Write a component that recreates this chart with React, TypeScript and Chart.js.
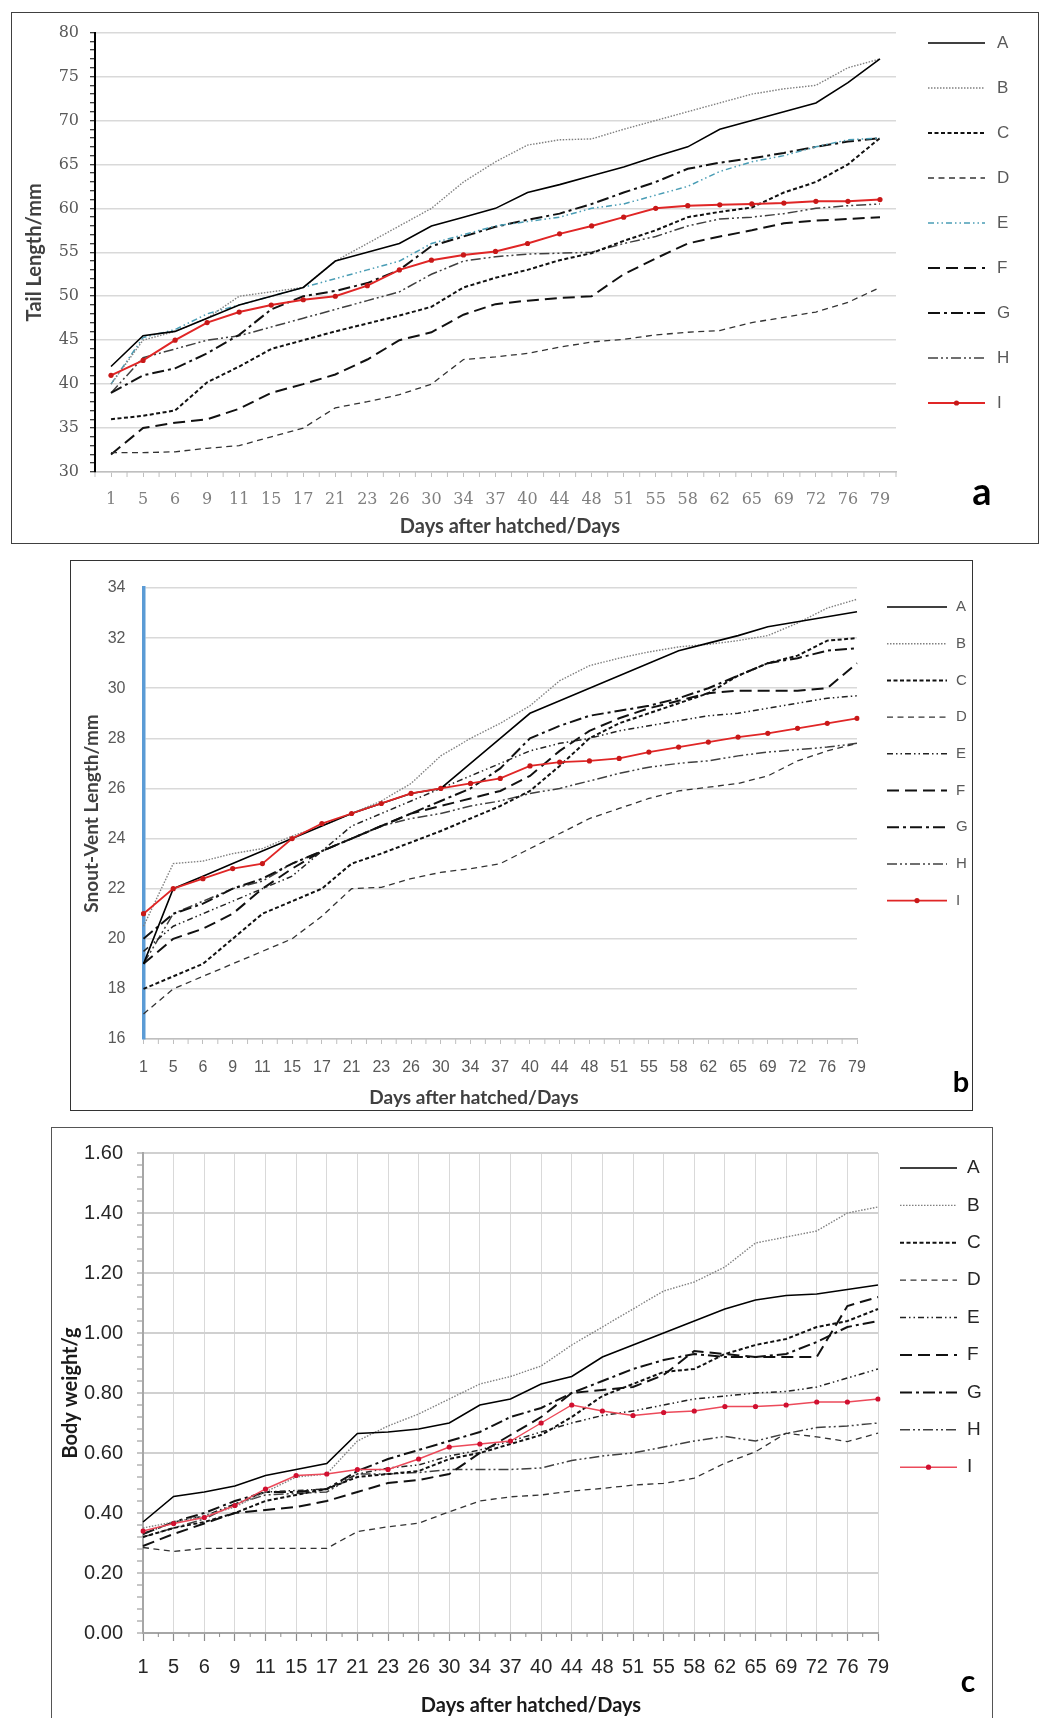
import React, { useEffect, useRef } from 'react';
import { Chart, registerables } from 'chart.js';

Chart.register(...registerables);

// ---------- categories ----------
const days = ['1', '5', '6', '9', '11', '15', '17', '21', '23', '26', '30', '34', '37', '40', '44', '48', '51', '55', '58', '62', '65', '69', '72', '76', '79'];
const seriesNames = ['A', 'B', 'C', 'D', 'E', 'F', 'G', 'H', 'I'];

// ---------- panel a : Tail length (mm) ----------
const tailA = [42, 45.5, 46, 47.5, 49, 50, 51, 54, 55, 56, 58, 59, 60, 61.8, 62.7, 63.7, 64.7, 65.9, 67, 69, 70, 71, 72, 74.3, 77];
const tailB = [40, 45, 46, 47.5, 50, 50.5, 51, 54, 56, 58, 60, 63, 65.3, 67.2, 67.8, 67.9, 69, 70, 71, 72, 73, 73.6, 74, 76, 77];
const tailC = [36, 36.4, 37, 40.2, 42, 44, 45, 46, 46.9, 47.8, 48.8, 51, 52.1, 53, 54.1, 54.9, 56.3, 57.5, 59, 59.6, 60.1, 61.8, 63, 65, 68];
const tailD = [32.2, 32.2, 32.3, 32.7, 33, 34, 35, 37.3, 38, 38.8, 40, 42.8, 43.1, 43.5, 44.2, 44.8, 45.1, 45.6, 45.9, 46.1, 47, 47.6, 48.2, 49.3, 51];
const tailE = [40, 45.3, 46.2, 48, 49, 50, 51, 52, 53, 54, 56, 57, 58, 58.5, 59, 60, 60.5, 61.5, 62.5, 64.2, 65.3, 66, 67, 67.8, 68];
const tailF = [32, 35, 35.6, 36, 37.2, 39, 40, 41.1, 42.8, 45, 45.9, 47.9, 49.1, 49.5, 49.8, 50, 52.5, 54.3, 56, 56.8, 57.5, 58.3, 58.6, 58.8, 59];
const tailG = [39, 41, 41.8, 43.5, 45.6, 48.5, 50, 50.6, 51.5, 53, 55.7, 56.8, 57.9, 58.7, 59.4, 60.5, 61.8, 63, 64.5, 65.2, 65.7, 66.3, 67, 67.6, 68];
const tailH = [39, 43, 44, 45, 45.5, 46.5, 47.5, 48.5, 49.5, 50.5, 52.5, 54, 54.5, 54.8, 54.9, 55, 56, 56.8, 58, 58.8, 59, 59.4, 60, 60.3, 60.5];
const tailI = [41, 42.7, 45, 47, 48.2, 49, 49.6, 50, 51.2, 53, 54.1, 54.7, 55.1, 56, 57.1, 58, 59, 60, 60.3, 60.4, 60.5, 60.6, 60.8, 60.8, 61];

// ---------- panel b : Snout-vent length (mm) ----------
const svlA = [19, 22, 22.5, 23, 23.5, 24, 24.5, 25, 25.4, 25.8, 26, 27, 28, 29, 29.5, 30, 30.5, 31, 31.5, 31.8, 32.1, 32.45, 32.65, 32.85, 33.05];
const svlB = [20.5, 23, 23.1, 23.4, 23.6, 24.1, 24.5, 25, 25.5, 26.2, 27.3, 28, 28.6, 29.3, 30.3, 30.9, 31.2, 31.45, 31.65, 31.75, 31.9, 32.1, 32.6, 33.2, 33.55];
const svlC = [18, 18.5, 19, 20, 21, 21.5, 22, 23, 23.4, 23.85, 24.3, 24.8, 25.3, 25.9, 26.9, 28, 28.6, 29, 29.4, 29.8, 30.5, 31, 31.3, 31.9, 32];
const svlD = [17, 18, 18.5, 19, 19.5, 20, 20.9, 22, 22.05, 22.4, 22.65, 22.8, 23, 23.6, 24.2, 24.8, 25.2, 25.6, 25.9, 26.05, 26.2, 26.5, 27.1, 27.5, 27.8];
const svlE = [19.5, 20.5, 21, 21.5, 22, 22.5, 23.5, 24.5, 25, 25.5, 26, 26.5, 27, 27.5, 27.8, 28, 28.3, 28.5, 28.7, 28.9, 29, 29.2, 29.4, 29.6, 29.7];
const svlF = [19, 20, 20.4, 21, 22, 22.8, 23.5, 24, 24.5, 25, 25.3, 25.6, 25.9, 26.5, 27.5, 28.3, 28.8, 29.2, 29.5, 29.8, 29.9, 29.9, 29.9, 30, 31];
const svlG = [20, 21, 21.4, 22, 22.4, 23, 23.5, 24, 24.5, 25, 25.5, 26, 26.8, 28, 28.5, 28.9, 29.1, 29.3, 29.6, 30, 30.5, 31, 31.2, 31.5, 31.6];
const svlH = [19, 21, 21.5, 22, 22.3, 23, 23.5, 24, 24.5, 24.8, 25, 25.3, 25.5, 25.8, 26, 26.3, 26.6, 26.85, 27, 27.1, 27.3, 27.45, 27.55, 27.65, 27.8];
const svlI = [21, 22, 22.4, 22.8, 23, 24, 24.6, 25, 25.4, 25.8, 26, 26.2, 26.4, 26.9, 27.05, 27.1, 27.2, 27.45, 27.65, 27.85, 28.05, 28.2, 28.4, 28.6, 28.8];

// ---------- panel c : Body weight (g) ----------
const bwA = [0.37, 0.455, 0.47, 0.49, 0.525, 0.545, 0.565, 0.665, 0.67, 0.68, 0.7, 0.76, 0.78, 0.83, 0.855, 0.92, 0.96, 1.0, 1.04, 1.08, 1.11, 1.125, 1.13, 1.145, 1.16];
const bwB = [0.35, 0.37, 0.39, 0.42, 0.47, 0.52, 0.53, 0.64, 0.69, 0.73, 0.78, 0.83, 0.855, 0.89, 0.96, 1.02, 1.08, 1.14, 1.17, 1.22, 1.3, 1.32, 1.34, 1.4, 1.42];
const bwC = [0.32, 0.35, 0.37, 0.4, 0.44, 0.46, 0.48, 0.52, 0.53, 0.54, 0.58, 0.6, 0.63, 0.66, 0.72, 0.79, 0.83, 0.87, 0.88, 0.93, 0.96, 0.98, 1.02, 1.04, 1.08];
const bwD = [0.285, 0.272, 0.282, 0.282, 0.282, 0.282, 0.282, 0.338, 0.354, 0.366, 0.404, 0.44, 0.454, 0.46, 0.473, 0.482, 0.493, 0.499, 0.516, 0.566, 0.604, 0.666, 0.654, 0.638, 0.666];
const bwE = [0.33, 0.37, 0.39, 0.43, 0.47, 0.475, 0.48, 0.53, 0.55, 0.56, 0.59, 0.61, 0.64, 0.67, 0.7, 0.725, 0.74, 0.76, 0.78, 0.79, 0.8, 0.805, 0.82, 0.85, 0.88];
const bwF = [0.29, 0.33, 0.365, 0.4, 0.41, 0.42, 0.44, 0.47, 0.5, 0.51, 0.53, 0.6, 0.66, 0.72, 0.8, 0.81, 0.82, 0.86, 0.94, 0.93, 0.92, 0.92, 0.92, 1.09, 1.12];
const bwG = [0.33, 0.37, 0.4, 0.44, 0.47, 0.47, 0.48, 0.54, 0.58, 0.61, 0.64, 0.67, 0.72, 0.75, 0.8, 0.84, 0.88, 0.91, 0.93, 0.92, 0.92, 0.93, 0.97, 1.02, 1.04];
const bwH = [0.32, 0.35, 0.38, 0.43, 0.46, 0.465, 0.47, 0.53, 0.53, 0.535, 0.545, 0.545, 0.545, 0.55, 0.575, 0.59, 0.6, 0.62, 0.64, 0.655, 0.64, 0.665, 0.685, 0.69, 0.7];
const bwI = [0.34, 0.365, 0.385, 0.425, 0.48, 0.525, 0.53, 0.545, 0.545, 0.58, 0.62, 0.63, 0.64, 0.7, 0.76, 0.74, 0.725, 0.735, 0.74, 0.755, 0.755, 0.76, 0.77, 0.77, 0.78];

// ---------- styles ----------
type LineStyle = { color: string; width: number; dash: number[]; point?: number; pointColor?: string };

const blackStyles = (eColor: string, red: string, redPoint: string, redWidth: number): LineStyle[] => [
  { color: '#000000', width: 1.6, dash: [] },
  { color: '#808080', width: 1.4, dash: [1.5, 1.5] },
  { color: '#111111', width: 2, dash: [4, 2.5] },
  { color: '#333333', width: 1.3, dash: [6, 4.5] },
  { color: eColor, width: 1.5, dash: [6, 3, 1.5, 3, 1.5, 3] },
  { color: '#111111', width: 2, dash: [12, 6] },
  { color: '#111111', width: 2, dash: [12, 4, 3, 4] },
  { color: '#404040', width: 1.5, dash: [10, 3, 2, 3, 2, 3] },
  { color: red, width: redWidth, dash: [], point: 2.6, pointColor: redPoint },
];

const stylesA = blackStyles('#4a9db5', '#e02626', '#c81818', 2);
const stylesB = blackStyles('#222222', '#e02626', '#c81818', 1.8);
const stylesC = blackStyles('#222222', '#ec4a5a', '#d01030', 1.4);

function makeDatasets(values: number[][], styles: LineStyle[]) {
  return values.map((v, i) => ({
    label: seriesNames[i],
    data: v,
    borderColor: styles[i].color,
    backgroundColor: styles[i].color,
    borderWidth: styles[i].width,
    borderDash: styles[i].dash,
    pointRadius: styles[i].point || 0,
    pointHoverRadius: styles[i].point || 0,
    pointBackgroundColor: styles[i].pointColor || styles[i].color,
    pointBorderColor: styles[i].pointColor || styles[i].color,
    pointBorderWidth: 0,
    tension: 0,
    fill: false,
    order: i === 8 ? -1 : i,
  }));
}

// ---------- plugins ----------
const lineLegend = {
  id: 'lineLegend',
  afterDraw(chart: any, _args: any, opts: any) {
    const ctx = chart.ctx;
    chart.data.datasets.forEach((ds: any, i: number) => {
      const yy = opts.y + i * opts.dy;
      ctx.save();
      ctx.strokeStyle = ds.borderColor;
      ctx.lineWidth = ds.borderWidth;
      ctx.setLineDash(ds.borderDash || []);
      ctx.beginPath();
      ctx.moveTo(opts.x, yy);
      ctx.lineTo(opts.x + opts.len, yy);
      ctx.stroke();
      if (ds.pointRadius > 0) {
        ctx.setLineDash([]);
        ctx.fillStyle = ds.pointBackgroundColor;
        ctx.beginPath();
        ctx.arc(opts.x + opts.len / 2, yy, ds.pointRadius, 0, Math.PI * 2);
        ctx.fill();
      }
      ctx.fillStyle = opts.color;
      ctx.font = opts.font;
      ctx.textBaseline = 'middle';
      ctx.textAlign = 'left';
      ctx.fillText(ds.label, opts.x + opts.len + opts.gap, yy);
      ctx.restore();
    });
  },
};

const minorTicks = {
  id: 'minorTicks',
  afterDraw(chart: any, _args: any, opts: any) {
    const sx = chart.scales.x;
    const ctx = chart.ctx;
    const n = chart.data.labels.length;
    ctx.save();
    ctx.strokeStyle = opts.color;
    ctx.lineWidth = opts.width;
    ctx.beginPath();
    const pts: number[] = [];
    for (let i = 0; i < n - 1; i++) pts.push((sx.getPixelForValue(i) + sx.getPixelForValue(i + 1)) / 2);
    if (opts.edges) {
      pts.push(chart.chartArea.left, chart.chartArea.right);
    }
    pts.forEach((p) => {
      ctx.moveTo(p, sx.top);
      ctx.lineTo(p, sx.top + opts.length);
    });
    ctx.stroke();
    ctx.restore();
  },
};

const isMult = (v: number, step: number) => Math.abs(v / step - Math.round(v / step)) < 1e-6;

// ---------- configs ----------
function configA(): any {
  return {
    type: 'line',
    data: { labels: days, datasets: makeDatasets([tailA, tailB, tailC, tailD, tailE, tailF, tailG, tailH, tailI], stylesA) },
    plugins: [lineLegend, minorTicks],
    options: {
      responsive: false,
      animation: false,
      events: [],
      layout: { padding: { top: 14, right: 143, left: 0, bottom: 0 } },
      plugins: {
        legend: { display: false },
        tooltip: { enabled: false },
        lineLegend: { x: 917, len: 57, gap: 12, y: 31, dy: 45, font: '17px "Liberation Sans"', color: '#595959' },
        minorTicks: { color: '#bfbfbf', width: 1, length: 5, edges: true },
      },
      scales: {
        x: {
          offset: true,
          grid: { drawOnChartArea: false, offset: false, tickLength: 5, tickColor: '#bfbfbf', tickWidth: 1 },
          border: { color: '#bfbfbf', width: 1.5 },
          ticks: { autoSkip: false, maxRotation: 0, padding: 13, color: '#7f7f7f', font: { family: 'DejaVu Serif', size: 16 } },
          afterFit: (s: any) => { s.height = 71; },
        },
        y: {
          min: 30,
          max: 80,
          ticks: {
            stepSize: 1,
            autoSkip: false,
            padding: 11,
            color: '#595959',
            font: { family: 'DejaVu Serif', size: 16 },
            callback: (v: number) => (isMult(v, 5) ? String(v) : ''),
          },
          grid: {
            color: (c: any) => (c.tick && isMult(c.tick.value, 5) ? '#d9d9d9' : 'rgba(0,0,0,0)'),
            lineWidth: 1.5,
            tickColor: '#000000',
            tickLength: 5,
            tickWidth: 1,
          },
          border: { color: '#000000', width: 2 },
          title: { display: true, text: 'Tail Length/mm', color: '#404040', font: { family: 'Lato', weight: 'bold', size: 20 }, padding: { top: 12, bottom: 0 } },
          afterFit: (s: any) => { s.width = 84; },
        },
      },
    },
  };
}

function configB(): any {
  return {
    type: 'line',
    data: { labels: days, datasets: makeDatasets([svlA, svlB, svlC, svlD, svlE, svlF, svlG, svlH, svlI], stylesB) },
    plugins: [lineLegend, minorTicks],
    options: {
      responsive: false,
      animation: false,
      events: [],
      layout: { padding: { top: 28, right: 116, left: 0, bottom: 0 } },
      plugins: {
        legend: { display: false },
        tooltip: { enabled: false },
        lineLegend: { x: 817, len: 60, gap: 9, y: 47, dy: 36.7, font: '15px "Liberation Sans"', color: '#595959' },
        minorTicks: { color: '#bfbfbf', width: 1, length: 5, edges: false },
      },
      scales: {
        x: {
          offset: false,
          grid: { drawOnChartArea: false, tickLength: 5, tickColor: '#bfbfbf', tickWidth: 1 },
          border: { color: '#bfbfbf', width: 1.5 },
          ticks: { autoSkip: false, maxRotation: 0, padding: 14, color: '#595959', font: { family: 'Liberation Sans', size: 16 } },
          afterFit: (s: any) => { s.height = 71; },
        },
        y: {
          min: 16,
          max: 34,
          ticks: { stepSize: 2, autoSkip: false, padding: 18, color: '#595959', font: { family: 'Liberation Sans', size: 16 } },
          grid: { color: '#d9d9d9', lineWidth: 1.5, drawTicks: false },
          border: { color: '#5b9bd5', width: 3.5 },
          title: { display: true, text: 'Snout-Vent Length/mm', color: '#404040', font: { family: 'Lato', weight: 'bold', size: 19 }, padding: { top: 10, bottom: 0 } },
          afterFit: (s: any) => { s.width = 73.5; },
        },
      },
    },
  };
}

function configC(): any {
  return {
    type: 'line',
    data: { labels: days, datasets: makeDatasets([bwA, bwB, bwC, bwD, bwE, bwF, bwG, bwH, bwI], stylesC) },
    plugins: [lineLegend, minorTicks],
    options: {
      responsive: false,
      animation: false,
      events: [],
      layout: { padding: { top: 26, right: 115, left: 0, bottom: 0 } },
      plugins: {
        legend: { display: false },
        tooltip: { enabled: false },
        lineLegend: { x: 849, len: 57, gap: 10, y: 41, dy: 37.4, font: '19px "Liberation Sans"', color: '#262626' },
        minorTicks: { color: '#8c8c8c', width: 1, length: 4, edges: false },
      },
      scales: {
        x: {
          offset: false,
          grid: { drawOnChartArea: true, color: '#d9d9d9', lineWidth: 1, borderDash: [2, 2], tickLength: 8, tickColor: '#8c8c8c', tickWidth: 1.2, tickBorderDash: [] },
          border: { color: '#a6a6a6', width: 2 },
          ticks: { autoSkip: false, maxRotation: 0, padding: 14, color: '#262626', font: { family: 'Liberation Sans', size: 20 } },
          afterFit: (s: any) => { s.height = 85; },
        },
        y: {
          min: 0,
          max: 1.6,
          ticks: {
            stepSize: 0.04,
            autoSkip: false,
            padding: 14,
            color: '#262626',
            font: { family: 'Liberation Sans', size: 20 },
            callback: (v: number) => (isMult(v, 0.2) ? v.toFixed(2) : ''),
          },
          grid: {
            color: (c: any) => (c.tick && isMult(c.tick.value, 0.2) ? '#d0d0d0' : 'rgba(0,0,0,0)'),
            lineWidth: 2,
            tickColor: '#8c8c8c',
            tickLength: 6,
            tickWidth: 1,
          },
          border: { color: '#a6a6a6', width: 2 },
          title: { display: true, text: 'Body weight/g', color: '#1a1a1a', font: { family: 'Lato', weight: 'bold', size: 20 }, padding: { top: 8, bottom: 0 } },
          afterFit: (s: any) => { s.width = 92; },
        },
      },
    },
  };
}

// ---------- components ----------
function ChartCanvas({ left, top, width, height, make }: { left: number; top: number; width: number; height: number; make: () => any }) {
  const ref = useRef<HTMLCanvasElement>(null);
  useEffect(() => {
    const chart = new Chart(ref.current as HTMLCanvasElement, make());
    return () => chart.destroy();
  }, []);
  return <canvas ref={ref} width={width} height={height} style={{ position: 'absolute', left, top, width, height }} />;
}

const Box = ({ left, top, width, height, border }: { left: number; top: number; width: number; height: number; border: string }) => (
  <div style={{ position: 'absolute', left, top, width, height, border, boxSizing: 'border-box' }} />
);

const Label = ({ x, y, text, style }: { x: number; y: number; text: string; style: React.CSSProperties }) => (
  <div style={{ position: 'absolute', left: x, top: y, transform: 'translate(-50%, -50%)', whiteSpace: 'nowrap', lineHeight: 1, ...style }}>{text}</div>
);

export default function App() {
  const titleStyle: React.CSSProperties = { fontFamily: 'Lato', fontWeight: 700, fontSize: 20 };
  return (
    <div style={{ position: 'absolute', left: 0, top: 0, width: 1042, height: 1718, background: '#ffffff', overflow: 'hidden' }}>
      <Box left={11} top={12} width={1028} height={532} border="1.5px solid #404040" />
      <ChartCanvas left={11} top={12} width={1028} height={531} make={configA} />
      <Label x={510} y={525} text="Days after hatched/Days" style={{ ...titleStyle, color: '#404040' }} />
      <Label x={982} y={490} text="a" style={{ fontFamily: 'Lato', fontWeight: 700, fontSize: 38, color: '#000' }} />

      <Box left={70} top={560} width={903} height={551} border="1.5px solid #333333" />
      <ChartCanvas left={70} top={560} width={903} height={550} make={configB} />
      <Label x={474} y={1096} text="Days after hatched/Days" style={{ ...titleStyle, fontSize: 19, color: '#404040' }} />
      <Label x={961} y={1080} text="b" style={{ fontFamily: 'Lato', fontWeight: 700, fontSize: 29, color: '#000' }} />

      <Box left={51} top={1127} width={942} height={620} border="1.5px solid #555555" />
      <ChartCanvas left={51} top={1127} width={942} height={591} make={configC} />
      <Label x={531} y={1704} text="Days after hatched/Days" style={{ ...titleStyle, color: '#1a1a1a' }} />
      <Label x={968} y={1680} text="c" style={{ fontFamily: 'Lato', fontWeight: 700, fontSize: 30, color: '#000' }} />
    </div>
  );
}
